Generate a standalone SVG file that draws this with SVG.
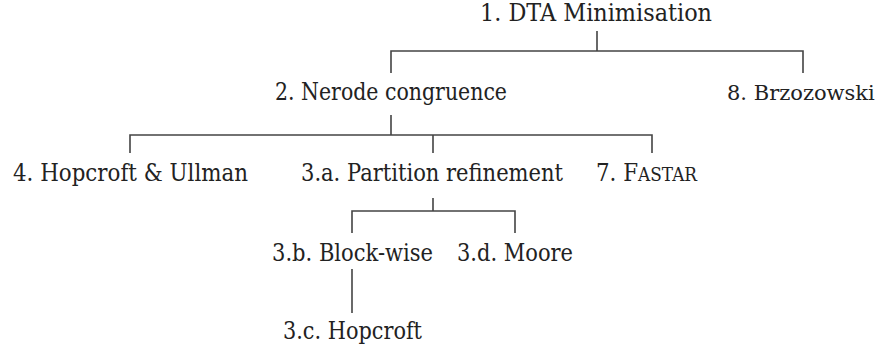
<svg xmlns="http://www.w3.org/2000/svg" width="879" height="349" viewBox="0 0 879 349">
<style>
.t { font-family: 'DejaVu Serif', serif; font-size: 23.5px; fill: #222; }
.t8 { font-family: 'DejaVu Serif', serif; font-size: 21px; fill: #222; }
.sc { font-size: 18.5px; }
.c { fill: none; stroke: #444; stroke-width: 1.6; }
</style>
<rect width="879" height="349" fill="#fff"/>
<g id="connectors">
<path class="c" d="M597,31 V51 M391,73 V51 H803 V73"/>
<path class="c" d="M391,115 V135 M130,153 V135 H652 V153 M433,135 V153"/>
<path class="c" d="M433,198 V211 M352,233 V211 H515 V233"/>
<path class="c" d="M352,269 V313"/>
</g>
<g id="n1"><text class="t" x="480" y="21" textLength="232" lengthAdjust="spacingAndGlyphs">1. DTA Minimisation</text></g>
<g id="n2"><text class="t" x="275" y="100" textLength="232" lengthAdjust="spacingAndGlyphs">2. Nerode congruence</text></g>
<g id="n8"><text class="t8" x="727" y="100">8. Brzozowski</text></g>
<g id="n4"><text class="t" x="13" y="181" textLength="235" lengthAdjust="spacingAndGlyphs">4. Hopcroft &amp; Ullman</text></g>
<g id="n3a"><text class="t" x="301" y="181" textLength="262" lengthAdjust="spacingAndGlyphs">3.a. Partition refinement</text></g>
<g id="n7"><text class="t" x="596" y="181" textLength="101" lengthAdjust="spacingAndGlyphs">7. F<tspan class="sc">ASTAR</tspan></text></g>
<g id="n3b"><text class="t" x="272" y="261" textLength="161" lengthAdjust="spacingAndGlyphs">3.b. Block-wise</text></g>
<g id="n3d"><text class="t" x="457" y="261" textLength="116" lengthAdjust="spacingAndGlyphs">3.d. Moore</text></g>
<g id="n3c"><text class="t" x="283" y="339" textLength="139" lengthAdjust="spacingAndGlyphs">3.c. Hopcroft</text></g>
</svg>
